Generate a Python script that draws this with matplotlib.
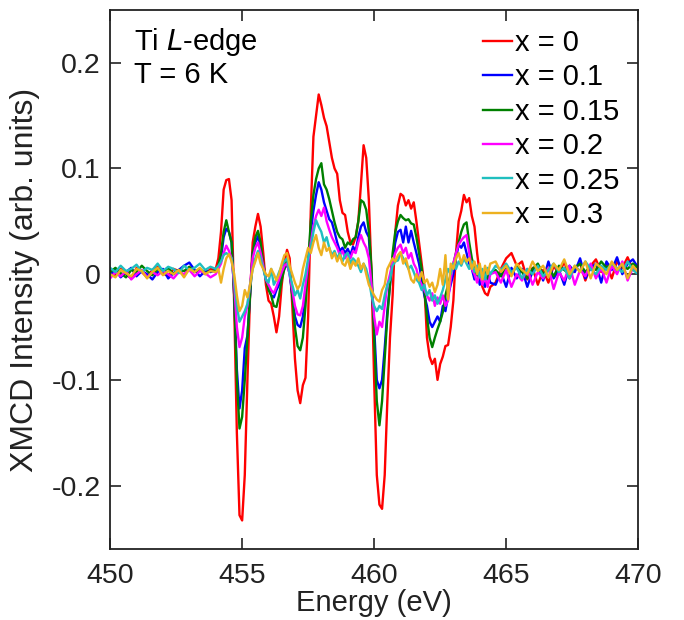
import numpy as np
import matplotlib
matplotlib.use("Agg")
import matplotlib.pyplot as plt

plt.rcParams['font.family'] = ['Liberation Sans', 'DejaVu Sans']

# Energy grid (eV): coarse pre-edge, fine edge region, coarse post-edge
energy_pre = np.round(np.arange(450.0, 453.81, 0.2), 2)
energy_core = np.round(np.arange(454.0, 464.41, 0.1), 2)
energy_post = np.round(np.arange(464.6, 470.01, 0.2), 2)
energy = np.concatenate([energy_pre, energy_core, energy_post])

labels = ["x = 0", "x = 0.1", "x = 0.15", "x = 0.2", "x = 0.25", "x = 0.3"]

x0_pre = [0.003, -0.002, 0.005, 0.000, -0.004, 0.006, 0.002, -0.003, 0.004, 0.007,
          0.001, -0.002, 0.005, 0.003, -0.001, 0.006, 0.002, 0.004, 0.000, 0.005]
x0_core = [0.005, 0.015, 0.040, 0.080, 0.089, 0.090, 0.070, -0.030, -0.150, -0.228,
           -0.233, -0.190, -0.100, -0.020, 0.030, 0.045, 0.057, 0.045, 0.020, -0.010,
           -0.025, -0.028, -0.040, -0.055, -0.040, -0.010, 0.010, 0.023, 0.015, -0.030,
           -0.080, -0.110, -0.122, -0.105, -0.098, -0.040, 0.060, 0.130, 0.150, 0.170,
           0.160, 0.148, 0.140, 0.125, 0.110, 0.100, 0.095, 0.070, 0.058, 0.056,
           0.040, 0.030, 0.028, 0.035, 0.050, 0.085, 0.122, 0.110, 0.070, 0.000,
           -0.100, -0.190, -0.218, -0.222, -0.190, -0.120, -0.060, -0.020, 0.040, 0.065,
           0.076, 0.074, 0.065, 0.070, 0.062, 0.068, 0.050, 0.030, 0.010, -0.010,
           -0.060, -0.078, -0.085, -0.080, -0.100, -0.085, -0.078, -0.068, -0.067, -0.050,
           -0.025, 0.020, 0.050, 0.060, 0.075, 0.068, 0.072, 0.055, 0.045, 0.020,
           0.000, -0.012, -0.018, -0.020, -0.012]
x0_post = [-0.008, 0.005, 0.015, 0.020, 0.008, 0.012, -0.005, 0.006, -0.010, 0.004,
           -0.008, 0.008, 0.000, 0.012, -0.004, 0.006, 0.010, -0.006, 0.008, 0.014,
           0.002, 0.010, -0.004, 0.012, 0.006, 0.016, 0.004, 0.008]

x01_pre = [0.000, 0.004, -0.003, 0.002, 0.006, -0.002, 0.003, 0.000, -0.005, 0.002,
           0.005, -0.004, 0.001, 0.004, 0.008, 0.011, 0.004, -0.002, 0.003, 0.002]
x01_core = [0.004, 0.006, 0.015, 0.035, 0.043, 0.040, 0.030, -0.020, -0.090, -0.127,
            -0.110, -0.070, -0.058, -0.020, 0.020, 0.030, 0.036, 0.025, 0.008, -0.005,
            -0.012, -0.020, -0.022, -0.015, -0.010, 0.000, 0.005, 0.010, 0.000, -0.020,
            -0.040, -0.048, -0.050, -0.040, -0.020, 0.010, 0.040, 0.060, 0.075, 0.087,
            0.080, 0.068, 0.060, 0.052, 0.049, 0.040, 0.030, 0.022, 0.025, 0.020,
            0.024, 0.018, 0.026, 0.022, 0.035, 0.045, 0.049, 0.040, 0.035, -0.005,
            -0.050, -0.100, -0.108, -0.100, -0.070, -0.035, -0.010, 0.015, 0.030, 0.040,
            0.042, 0.030, 0.045, 0.030, 0.041, 0.030, 0.020, 0.010, -0.005, -0.020,
            -0.030, -0.045, -0.050, -0.045, -0.040, -0.045, -0.030, -0.035, -0.020, -0.010,
            0.000, 0.015, 0.028, 0.025, 0.030, 0.020, 0.010, 0.005, -0.005, 0.005,
            -0.010, -0.005, -0.012, 0.000, -0.008]
x01_post = [-0.010, 0.002, -0.012, 0.006, -0.004, 0.005, -0.012, 0.003, 0.008, -0.006,
            0.012, -0.004, 0.004, -0.010, 0.008, 0.002, 0.015, -0.004, 0.006, 0.010,
            -0.008, 0.012, 0.004, 0.016, 0.000, 0.010, 0.014, 0.006]

x015_pre = [0.002, 0.006, 0.001, -0.003, 0.004, 0.002, 0.008, 0.003, -0.001, 0.005,
            0.002, 0.006, 0.000, 0.004, 0.003, 0.007, 0.002, 0.005, 0.001, 0.003]
x015_core = [0.003, 0.008, 0.020, 0.040, 0.051, 0.040, 0.030, -0.020, -0.100, -0.146,
             -0.135, -0.100, -0.060, -0.020, 0.020, 0.035, 0.041, 0.030, 0.010, -0.005,
             -0.015, -0.020, -0.030, -0.031, -0.020, -0.005, 0.005, 0.012, 0.005, -0.020,
             -0.050, -0.068, -0.072, -0.060, -0.030, 0.010, 0.050, 0.075, 0.090, 0.100,
             0.105, 0.085, 0.080, 0.071, 0.060, 0.049, 0.040, 0.035, 0.033, 0.025,
             0.030, 0.028, 0.033, 0.035, 0.050, 0.070, 0.068, 0.061, 0.040, 0.005,
             -0.060, -0.120, -0.143, -0.120, -0.080, -0.040, -0.010, 0.020, 0.040, 0.050,
             0.056, 0.053, 0.051, 0.052, 0.048, 0.047, 0.035, 0.020, 0.005, -0.015,
             -0.040, -0.060, -0.069, -0.060, -0.052, -0.045, -0.036, -0.020, -0.010, 0.000,
             0.010, 0.020, 0.030, 0.040, 0.047, 0.049, 0.030, 0.015, 0.005, 0.000,
             -0.003, -0.005, 0.002, -0.004, 0.000]
x015_post = [0.004, -0.002, 0.006, 0.000, 0.008, 0.002, -0.004, 0.005, 0.010, 0.000,
             0.006, -0.002, 0.008, 0.004, 0.000, 0.006, 0.010, 0.002, 0.008, 0.004,
             0.012, 0.006, 0.010, 0.003, 0.008, 0.005, 0.010, 0.006]

x02_pre = [-0.004, 0.002, -0.002, 0.003, -0.005, 0.000, 0.004, -0.003, 0.002, -0.001,
           0.003, 0.000, -0.004, 0.002, 0.000, 0.004, -0.002, 0.003, 0.001, -0.003]
x02_core = [0.000, 0.005, 0.010, 0.020, 0.027, 0.022, 0.015, -0.010, -0.050, -0.069,
            -0.060, -0.040, -0.030, -0.010, 0.015, 0.025, 0.030, 0.020, 0.008, -0.005,
            -0.010, -0.015, -0.018, -0.012, -0.005, 0.002, 0.008, 0.010, 0.000, -0.015,
            -0.030, -0.038, -0.039, -0.030, -0.010, 0.010, 0.030, 0.045, 0.055, 0.061,
            0.055, 0.063, 0.050, 0.042, 0.035, 0.030, 0.025, 0.018, 0.022, 0.015,
            0.020, 0.015, 0.022, 0.020, 0.030, 0.037, 0.030, 0.025, 0.015, -0.010,
            -0.040, -0.057, -0.045, -0.050, -0.030, -0.010, 0.000, 0.012, 0.020, 0.025,
            0.028, 0.020, 0.025, 0.015, 0.020, 0.010, 0.005, -0.005, -0.010, -0.015,
            -0.020, -0.025, -0.018, -0.030, -0.022, -0.028, -0.020, -0.030, -0.025, -0.005,
            0.010, 0.020, 0.028, 0.032, 0.035, 0.037, 0.020, 0.005, 0.000, -0.008,
            0.002, -0.010, -0.003, -0.012, 0.000]
x02_post = [0.002, -0.008, 0.004, -0.012, 0.000, -0.006, 0.005, -0.010, 0.002, -0.004,
            0.006, -0.014, 0.002, -0.006, 0.008, -0.010, 0.004, -0.002, 0.010, -0.004,
            0.006, -0.008, 0.008, 0.000, 0.012, -0.006, 0.006, 0.002]

x025_pre = [0.006, 0.002, 0.008, 0.003, 0.005, 0.009, 0.002, 0.006, 0.004, 0.010,
            0.003, 0.007, 0.005, 0.001, 0.008, 0.004, 0.006, 0.010, 0.004, 0.007]
x025_core = [0.005, 0.008, 0.012, 0.018, 0.020, 0.018, 0.015, -0.005, -0.030, -0.045,
             -0.040, -0.035, -0.028, -0.010, 0.005, 0.015, 0.022, 0.015, 0.005, -0.005,
             -0.008, 0.005, -0.010, -0.005, 0.002, 0.008, 0.012, 0.015, 0.000, -0.010,
             -0.020, -0.015, -0.023, -0.010, 0.000, 0.015, 0.025, 0.040, 0.051, 0.045,
             0.040, 0.030, 0.035, 0.025, 0.018, 0.022, 0.015, 0.020, 0.012, 0.018,
             0.020, 0.010, 0.015, 0.012, 0.008, 0.002, 0.010, 0.005, -0.005, -0.020,
             -0.030, -0.035, -0.030, -0.033, -0.020, -0.010, -0.005, 0.008, 0.012, 0.013,
             0.020, 0.015, 0.010, 0.005, 0.008, 0.002, -0.005, -0.008, -0.015, -0.010,
             -0.020, -0.015, -0.025, -0.020, -0.028, -0.022, -0.015, -0.005, 0.005, 0.000,
             0.010, 0.005, 0.012, 0.008, 0.015, 0.010, 0.005, 0.012, 0.002, 0.008,
             -0.003, 0.005, -0.005, 0.006, 0.000]
x025_post = [0.008, 0.004, 0.010, 0.002, 0.006, -0.004, 0.005, 0.000, 0.008, -0.002,
             0.004, 0.010, 0.002, 0.006, -0.004, 0.008, 0.003, 0.012, 0.005, 0.000,
             0.008, 0.004, 0.010, 0.006, 0.002, 0.012, 0.004, 0.000]

x03_pre = [0.000, -0.003, 0.004, 0.001, -0.002, 0.005, 0.003, -0.004, 0.002, 0.006,
           -0.001, 0.003, 0.000, 0.004, -0.003, 0.005, 0.002, 0.006, 0.000, 0.003]
x03_core = [0.002, 0.005, -0.008, 0.005, 0.015, 0.019, 0.012, 0.000, -0.020, -0.035,
            -0.030, -0.015, -0.022, -0.010, 0.005, 0.012, 0.020, 0.010, 0.005, 0.000,
            -0.002, 0.005, 0.000, -0.006, 0.000, 0.010, 0.018, 0.020, 0.008, 0.000,
            -0.008, -0.014, -0.010, 0.005, 0.015, 0.025, 0.020, 0.030, 0.037, 0.025,
            0.018, 0.030, 0.022, 0.025, 0.015, 0.020, 0.012, 0.018, 0.010, 0.008,
            0.015, 0.005, 0.012, 0.008, 0.015, 0.005, 0.010, 0.000, -0.010, -0.015,
            -0.020, -0.024, -0.026, -0.015, -0.010, 0.005, 0.010, 0.015, 0.012, 0.018,
            0.021, 0.010, 0.015, 0.005, -0.005, -0.008, 0.000, -0.006, 0.002, -0.008,
            -0.005, -0.012, -0.008, -0.017, -0.010, 0.005, -0.010, 0.018, -0.024, 0.010,
            0.005, 0.015, 0.020, 0.010, 0.018, 0.012, 0.015, 0.005, 0.012, 0.000,
            0.010, -0.005, 0.008, 0.000, 0.010]
x03_post = [0.012, 0.002, 0.008, -0.002, 0.010, 0.004, 0.000, 0.012, 0.003, 0.008,
            -0.003, 0.010, 0.004, 0.014, 0.000, 0.008, 0.002, 0.012, -0.004, 0.010,
            0.006, 0.000, 0.012, 0.004, 0.010, -0.004, 0.008, 0.002]

series = [
    x0_pre + x0_core + x0_post,
    x01_pre + x01_core + x01_post,
    x015_pre + x015_core + x015_post,
    x02_pre + x02_core + x02_post,
    x025_pre + x025_core + x025_post,
    x03_pre + x03_core + x03_post,
]
colors = ["#ff0000", "#0000ff", "#008000", "#ff00ff", "#1fbfbf", "#edb120"]

xticks = [450, 455, 460, 465, 470]
yticks = [-0.2, -0.1, 0, 0.1, 0.2]
ytick_labels = ["-0.2", "-0.1", "0", "0.1", "0.2"]

fig = plt.figure(figsize=(6.84, 6.2), dpi=100)
ax = fig.add_axes([0.161, 0.1145, 0.772, 0.8695])

for y, c, lab in zip(series, colors, labels):
    ax.plot(energy, y, color=c, lw=1.7, label=lab)

ax.set_xlim(450, 470)
ax.set_ylim(-0.26, 0.25)
ax.set_xticks(xticks)
ax.set_xticklabels([str(t) for t in xticks])
ax.set_yticks(yticks)
ax.set_yticklabels(ytick_labels)
ax.tick_params(axis='x', pad=10)
ax.tick_params(direction='in', length=8, width=1.2, labelsize=20.5,
               top=True, right=True, colors='#222222')
ax.tick_params(axis='y', pad=7)
for sp in ax.spines.values():
    sp.set_linewidth(1.3)
    sp.set_color('#222222')

ax.set_xlabel("Energy (eV)", fontsize=21, labelpad=0, color='#222222')
ax.set_ylabel("XMCD Intensity (arb. units)", fontsize=23, labelpad=8, color='#222222')

ax.text(0.045, 0.941, "Ti $\\mathit{L}$-edge", transform=ax.transAxes, fontsize=21,
        va='center', ha='left')
ax.text(0.045, 0.879, "T = 6 K", transform=ax.transAxes, fontsize=21,
        va='center', ha='left')

leg = ax.legend(loc='upper right', bbox_to_anchor=(1.0, 1.0), frameon=False,
                fontsize=21, handlelength=1.0, handletextpad=0.1,
                labelspacing=0.22, borderaxespad=0.45, borderpad=0.2)

fig.savefig("out.png", dpi=100)
